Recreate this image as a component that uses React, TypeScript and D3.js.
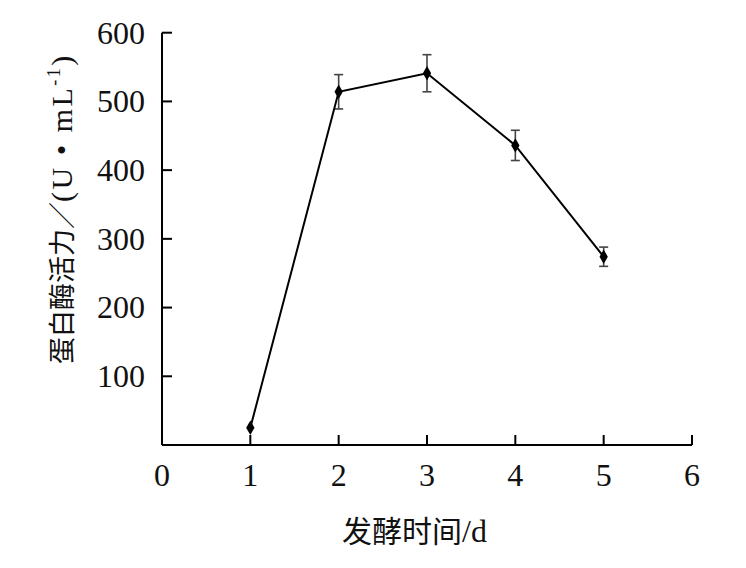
import React from "react";
import * as d3 from "d3";

const days = [1, 2, 3, 4, 5];
const activity = [25, 514, 541, 436, 274];
const errors = [0, 25, 27, 22, 14];
const xTicks = [0, 1, 2, 3, 4, 5, 6];
const yTicks = [100, 200, 300, 400, 500, 600];
const xTitleCjk = "发酵时间";
const xTitleLatin = "/d";
const yTitleCjk = "蛋白酶活力／";
const yTitleLatin = "(U • mL";
const yTitleSup = "-1";
const yTitleEnd = ")";

export default function App() {
  const W = 746, H = 568;
  const x = d3.scaleLinear().domain([0, 6]).range([162, 692]);
  const y = d3.scaleLinear().domain([0, 600]).range([445, 32.7]);
  const pts = days.map((d, i) => ({ d, v: activity[i], e: errors[i] }));
  const line = d3.line<any>().x(p => x(p.d)).y(p => y(p.v))(pts) || "";
  const diamond = d3.symbol().type(d3.symbolDiamond).size(60)() || "";
  const font = "'Liberation Serif', 'Times New Roman', serif";
  const cjk = "'Noto Sans CJK SC', sans-serif";
  return (
    <svg width={W} height={H} style={{ position: "absolute", left: 0, top: 0, background: "#fff" }}>
      <rect width={W} height={H} fill="#fff" />
      <line x1={x(0)} x2={x(0)} y1={y(600)} y2={y(0)} stroke="#000" strokeWidth={2} />
      <line x1={x(0)} x2={x(6)} y1={y(0)} y2={y(0)} stroke="#000" strokeWidth={2} />
      {yTicks.map(t => (
        <g key={"y" + t}>
          <line x1={x(0)} x2={x(0) + 10} y1={y(t)} y2={y(t)} stroke="#000" strokeWidth={2} />
          <text x={x(0) - 17} y={y(t)} dy="0.34em" textAnchor="end" fontFamily={font} fontSize={32} fill="#111">{t}</text>
        </g>
      ))}
      {xTicks.map(t => (
        <g key={"x" + t}>
          <line x1={x(t)} x2={x(t)} y1={y(0)} y2={y(0) - 10} stroke="#000" strokeWidth={2} />
          <text x={x(t)} y={486} textAnchor="middle" fontFamily={font} fontSize={32} fill="#111">{t}</text>
        </g>
      ))}
      {pts.filter(p => p.e > 0).map(p => (
        <g key={"e" + p.d} stroke="#444" strokeWidth={1.6}>
          <line x1={x(p.d)} x2={x(p.d)} y1={y(p.v + p.e)} y2={y(p.v - p.e)} />
          <line x1={x(p.d) - 4.5} x2={x(p.d) + 4.5} y1={y(p.v + p.e)} y2={y(p.v + p.e)} />
          <line x1={x(p.d) - 4.5} x2={x(p.d) + 4.5} y1={y(p.v - p.e)} y2={y(p.v - p.e)} />
        </g>
      ))}
      <path d={line} fill="none" stroke="#000" strokeWidth={2} />
      {pts.map(p => (
        <path key={"m" + p.d} d={diamond} transform={`translate(${x(p.d)},${y(p.v)})`} fill="#000" />
      ))}
      <text x={342} y={542} fontFamily={cjk} fontSize={30} fill="#111">
        {xTitleCjk}
        <tspan fontFamily={font} fontSize={32}>{xTitleLatin}</tspan>
      </text>
      <g transform="translate(72,364) rotate(-90)">
        <text x={0} y={0} fontFamily={cjk} fontSize={27} fill="#111">{yTitleCjk}</text>
        <text x={162} y={0} fontFamily={font} fontSize={30} letterSpacing={2.5} fill="#111">
          {yTitleLatin}
          <tspan fontSize={18} dy={-12}>{yTitleSup}</tspan>
          <tspan dy={12}>{yTitleEnd}</tspan>
        </text>
      </g>
    </svg>
  );
}
